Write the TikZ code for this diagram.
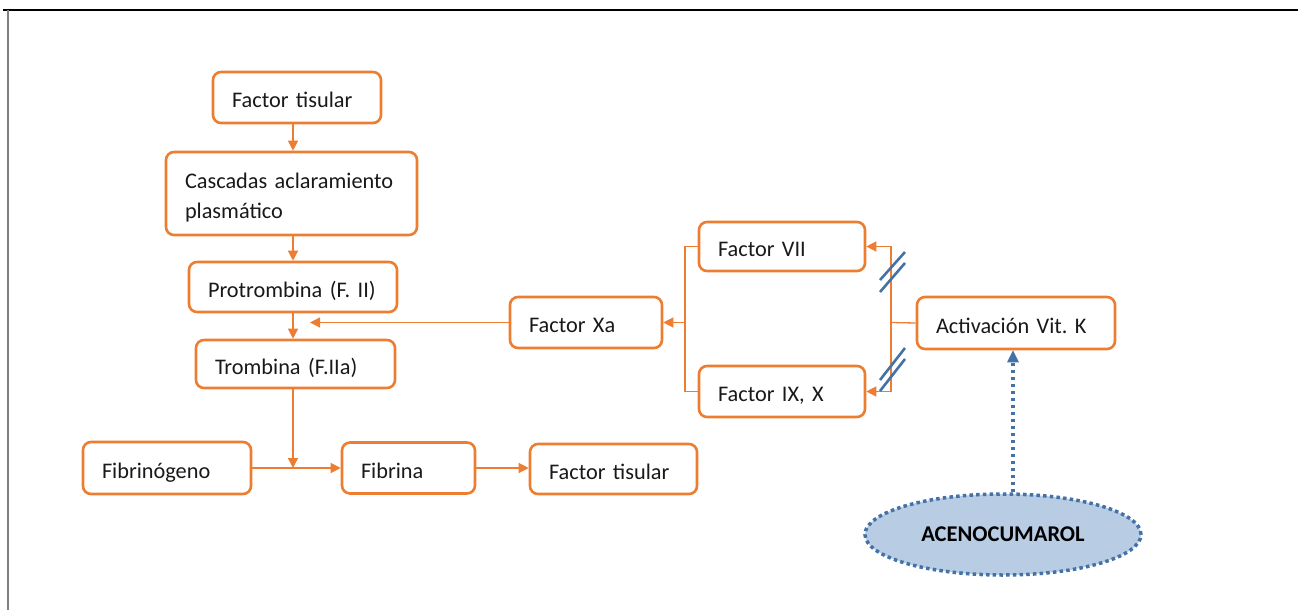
\documentclass[tikz,border=0pt]{standalone}
\usepackage{fontspec}
\setmainfont{Carlito}
\usetikzlibrary{arrows.meta,shapes.geometric,calc}
\definecolor{orng}{RGB}{237,125,49}
\definecolor{bluel}{RGB}{68,114,166}
\definecolor{bluef}{RGB}{184,204,228}
\definecolor{txt}{RGB}{25,25,25}
\frenchspacing
\begin{document}
\begin{tikzpicture}[x=1pt,y=-1pt,
  box/.style={draw=orng,line width=2.6pt,rounded corners=8pt,fill=white,
    inner xsep=19pt,inner ysep=0pt,align=left,text=txt,
    font=\fontsize{22.3}{30}\selectfont},
  sbox/.style={box,text height=20pt,text depth=0pt},
  conn/.style={draw=orng,line width=1.3pt},
  arr/.style={conn,-{Triangle[length=10pt,width=10pt]}},
  slash/.style={draw=bluel,line width=2.6pt},
]
\useasboundingbox (0,0) rectangle (1298,610);
\draw[line width=1.4pt,black] (3,10) -- (1298,10);
\draw[line width=1.6pt,gray] (8,10) -- (8,610);

\node[sbox,minimum height=51pt,text width=130pt] (ft1) at (297,97.5) {Factor tisular};
\node[box,minimum height=83pt,text width=213pt] (casc) at (291.5,193.5) {\rule{0pt}{23pt}Cascadas aclaramiento\\plasmático};
\node[sbox,minimum height=50pt,text width=170pt] (prot) at (293,287) {Protrombina (F. II)};
\node[sbox,minimum height=48pt,text width=161pt] (tromb) at (295.5,364) {Trombina (F.IIa)};
\node[sbox,minimum height=52pt,text width=130pt] (fibg) at (167,468) {Fibrinógeno};
\node[sbox,minimum height=51pt,text width=95pt] (fibr) at (408.5,468) {Fibrina};
\node[sbox,minimum height=50pt,text width=129pt] (ft2) at (613.5,469) {Factor tisular};
\node[sbox,minimum height=51pt,text width=114pt] (xa) at (586,322.5) {Factor Xa};
\node[sbox,minimum height=49pt,text width=128pt] (f7) at (782,246.5) {Factor VII};
\node[sbox,minimum height=51pt,text width=128pt] (f9) at (782,391.5) {Factor IX, X};
\node[sbox,minimum height=52pt,text width=160pt] (vk) at (1016,323) {Activación Vit. K};
\node[ellipse,draw=bluel,fill=bluef,line width=3.5pt,dash pattern=on 3.5pt off 3.2pt,
  minimum width=276pt,minimum height=81pt,text=black,
  font=\fontsize{22.5}{26}\selectfont\bfseries] (ace) at (1003,534.5) {ACENOCUMAROL};

\coordinate (tr) at (293,0);
\coordinate (xaend) at (310,322.5);
\coordinate (jn) at (293,468);
\coordinate (bl) at (685,322.5);
\coordinate (br) at (891,322.5);
\coordinate (va) at (1013,0);

\draw[arr] (ft1.south -| tr) -- (casc.north -| tr);
\draw[arr] (casc.south -| tr) -- (prot.north -| tr);
\draw[arr] (prot.south -| tr) -- (tromb.north -| tr);
\draw[arr] (xa.west) -- (xaend);
\draw[arr] (tromb.south -| tr) -- (jn);
\draw[arr] (fibg.east) -- (fibr.west);
\draw[arr] (fibr.east) -- (fibr.east -| ft2.west);

\draw[conn] (f7.west) -| (bl) |- (f9.west);
\draw[arr] (bl) -- (xa.east);
\draw[conn] (vk.west) -- (br);
\draw[arr] (br) |- (f7.east);
\draw[arr] (br) |- (f9.east);

\draw[slash] (880,280) -- (905,252);
\draw[slash] (880,292) -- (905,263);
\draw[slash] (880,380) -- (905,348);
\draw[slash] (880,391) -- (905,359);

\draw[draw=bluel,line width=3.5pt,dash pattern=on 3.5pt off 3.5pt,
  -{Triangle[length=12pt,width=12pt,fill=bluel,line width=0pt]}]
  (ace.north -| va) -- (vk.south -| va);
\end{tikzpicture}
\end{document}
